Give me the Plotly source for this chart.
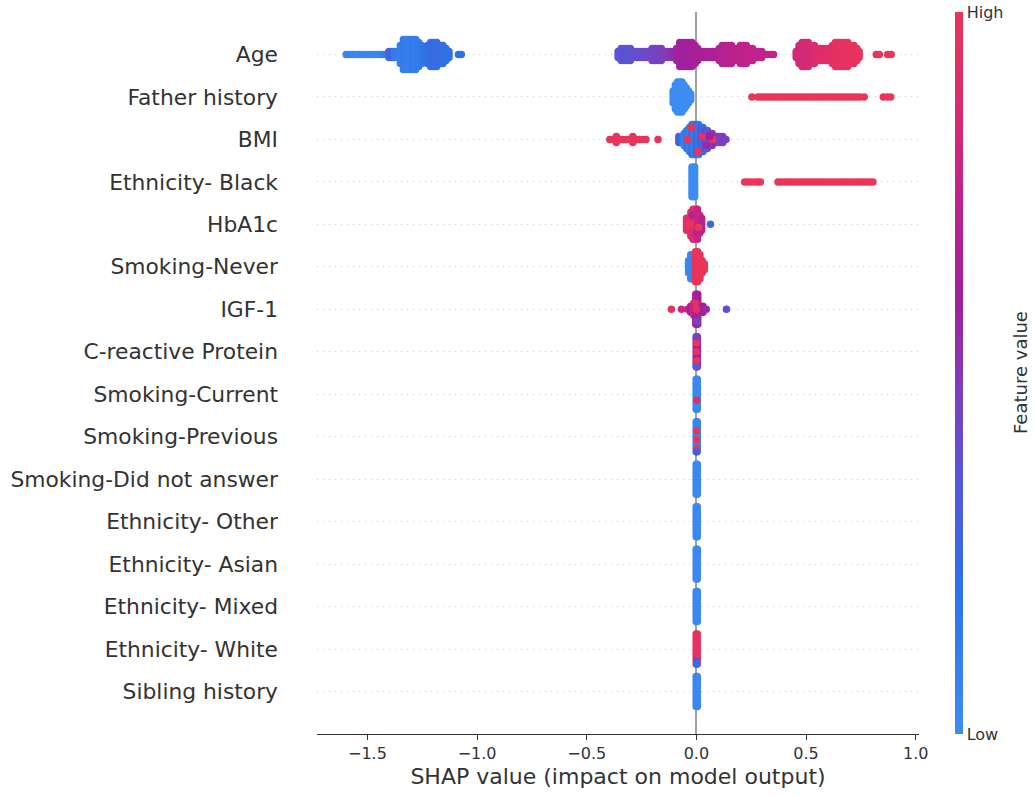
import plotly.graph_objects as go

# ---------------- data ----------------
FEATURES = ["Age", "Father history", "BMI", "Ethnicity- Black", "HbA1c",
            "Smoking-Never", "IGF-1", "C-reactive Protein", "Smoking-Current",
            "Smoking-Previous", "Smoking-Did not answer", "Ethnicity- Other",
            "Ethnicity- Asian", "Ethnicity- Mixed", "Ethnicity- White",
            "Sibling history"]

# For every feature: SHAP value of each bin (X), half-height of the dot stack
# in that bin (N) and the normalised feature value that colours it (V).
AGE_X = [-1.597, -1.582, -1.567, -1.552, -1.537, -1.522, -1.507, -1.492, -1.477, -1.462,
         -1.447, -1.432, -1.417, -1.402, -1.388, -1.376,
         -1.350, -1.336, -1.322, -1.308, -1.294, -1.280, -1.266, -1.252, -1.240,
         -1.226, -1.212, -1.198, -1.184, -1.170, -1.156, -1.142, -1.128,
         -1.085, -1.072,
         -0.357, -0.343, -0.329, -0.315, -0.301, -0.288,
         -0.272, -0.258, -0.244, -0.230,
         -0.216, -0.202, -0.188, -0.174, -0.160, -0.146,
         -0.132, -0.118, -0.104,
         -0.090, -0.076, -0.062, -0.048, -0.034, -0.020, -0.006, 0.006,
         0.020, 0.034, 0.048, 0.062, 0.076, 0.090,
         0.104, 0.118, 0.132, 0.146, 0.160, 0.174, 0.188, 0.200, 0.214, 0.228, 0.242, 0.256,
         0.270, 0.284, 0.298, 0.312, 0.326, 0.340, 0.352,
         0.455, 0.468, 0.482, 0.496, 0.510, 0.524, 0.538, 0.550,
         0.564, 0.578, 0.592,
         0.606, 0.620, 0.634, 0.648, 0.662, 0.676, 0.690, 0.704, 0.718, 0.732, 0.742,
         0.820, 0.834, 0.872, 0.888]
AGE_N = [0, 0, 0, 0, 0, 0, 0, 0, 0, 0, 0, 0, 0, 1, 1, 1,
         3, 5, 5, 5, 5, 5, 4, 3, 2,
         3, 4, 4, 4, 3, 3, 2, 1,
         0, 0,
         1, 2, 2, 2, 2, 1,
         1, 1, 1, 1,
         1, 2, 2, 2, 2, 1,
         1, 1, 1,
         2, 4, 4, 4, 4, 4, 3, 2,
         1, 1, 1, 1, 1, 1,
         2, 3, 3, 3, 3, 2, 2, 3, 3, 3, 2, 2,
         1, 1, 1, 0, 0, 0, 0,
         1, 3, 4, 4, 4, 3, 3, 2,
         2, 2, 2,
         2, 3, 4, 4, 4, 4, 4, 3, 3, 2, 1,
         0, 0, 0, 0]
AGE_V = [0.05, 0.05, 0.05, 0.05, 0.05, 0.05, 0.05, 0.05, 0.05, 0.05, 0.05, 0.08, 0.10, 0.25, 0.30, 0.12,
         0.10, 0.12, 0.10, 0.10, 0.12, 0.10, 0.12, 0.15, 0.18,
         0.20, 0.22, 0.24, 0.22, 0.25, 0.22, 0.20, 0.20,
         0.20, 0.22,
         0.36, 0.37, 0.38, 0.37, 0.38, 0.39,
         0.40, 0.40, 0.41, 0.42,
         0.43, 0.44, 0.45, 0.45, 0.46, 0.47,
         0.50, 0.52, 0.55,
         0.58, 0.60, 0.60, 0.61, 0.61, 0.62, 0.62, 0.63,
         0.64, 0.64, 0.65, 0.65, 0.66, 0.66,
         0.68, 0.69, 0.70, 0.70, 0.71, 0.72, 0.72, 0.73, 0.74, 0.74, 0.75, 0.75,
         0.74, 0.74, 0.75, 0.75, 0.76, 0.76, 0.76,
         0.82, 0.83, 0.84, 0.84, 0.85, 0.86, 0.87, 0.88,
         0.89, 0.90, 0.91,
         0.92, 0.93, 0.94, 0.95, 0.95, 0.96, 0.96, 0.97, 0.97, 0.98, 0.98,
         0.98, 0.99, 0.99, 1.00]

FATHER_X = [-0.106, -0.096, -0.086, -0.076, -0.066, -0.056, -0.046, -0.036, -0.026,
            0.253, 0.280, 0.295, 0.310, 0.325, 0.340, 0.355, 0.370, 0.385, 0.400, 0.415,
            0.430, 0.445, 0.460, 0.475, 0.490, 0.505, 0.520, 0.535, 0.550, 0.565,
            0.580, 0.595, 0.610, 0.625, 0.640, 0.655, 0.670, 0.685, 0.700, 0.715,
            0.730, 0.745, 0.765,
            0.852, 0.870, 0.886]
FATHER_N = [2, 4, 5, 5, 5, 4, 3, 2, 1,
            0, 0, 0, 0, 0, 0, 0, 0, 0, 0, 0,
            0, 0, 0, 0, 0, 0, 0, 0, 0, 0,
            0, 0, 0, 0, 0, 0, 0, 0, 0, 0,
            0, 0, 0,
            0, 0, 0]
FATHER_V = [0.0, 0.0, 0.0, 0.0, 0.0, 0.0, 0.0, 0.0, 0.0,
            1.0, 1.0, 1.0, 1.0, 1.0, 1.0, 1.0, 1.0, 1.0, 1.0, 1.0,
            1.0, 1.0, 1.0, 1.0, 1.0, 1.0, 1.0, 1.0, 1.0, 1.0,
            1.0, 1.0, 1.0, 1.0, 1.0, 1.0, 1.0, 1.0, 1.0, 1.0,
            1.0, 1.0, 1.0,
            1.0, 1.0, 1.0]

BMI_X = [-0.395, -0.380, -0.365, -0.350, -0.335, -0.320, -0.305, -0.290, -0.275, -0.260,
         -0.245, -0.230, -0.175,
         -0.080, -0.068, -0.056, -0.044, -0.032, -0.020, -0.010, 0.000, 0.010, 0.020,
         0.030, 0.040, 0.050, 0.060, 0.072, 0.084, 0.096, 0.108, 0.120, 0.135]
BMI_N = [0, 0, 1, 0, 0, 0, 0, 1, 0, 0, 0, 0, 0,
         1, 1, 2, 3, 4, 5, 5, 5, 5, 4, 4, 3, 3, 2, 2, 1, 1, 1, 1, 0]
BMI_V = [1.0, 1.0, 1.0, 1.0, 1.0, 1.0, 1.0, 1.0, 1.0, 1.0, 1.0, 1.0, 1.0,
         0.35, 0.20, 0.10, 0.15, 0.10, 0.20, 0.10, 0.25, 0.15, 0.35,
         0.20, 0.45, 0.30, 0.50, 0.50, 0.55, 0.50, 0.45, 0.50, 0.45]

BLACK_X = [-0.020, -0.008,
           0.220, 0.235, 0.250, 0.265, 0.280, 0.292,
           0.372, 0.387, 0.402, 0.417, 0.432, 0.447, 0.462, 0.477, 0.492, 0.507,
           0.522, 0.537, 0.552, 0.567, 0.582, 0.597, 0.612, 0.627, 0.642, 0.657,
           0.672, 0.687, 0.702, 0.717, 0.732, 0.747, 0.762, 0.777, 0.792, 0.805]
BLACK_N = [5, 5,
           0, 0, 0, 0, 0, 0,
           0, 0, 0, 0, 0, 0, 0, 0, 0, 0,
           0, 0, 0, 0, 0, 0, 0, 0, 0, 0,
           0, 0, 0, 0, 0, 0, 0, 0, 0, 0]
BLACK_V = [0.0, 0.0,
           1.0, 1.0, 1.0, 1.0, 1.0, 1.0,
           1.0, 1.0, 1.0, 1.0, 1.0, 1.0, 1.0, 1.0, 1.0, 1.0,
           1.0, 1.0, 1.0, 1.0, 1.0, 1.0, 1.0, 1.0, 1.0, 1.0,
           1.0, 1.0, 1.0, 1.0, 1.0, 1.0, 1.0, 1.0, 1.0, 1.0]

HBA1C_X = [-0.045, -0.035, -0.025, -0.015, -0.005, 0.005, 0.015, 0.024, 0.064]
HBA1C_N = [2, 2, 4, 5, 5, 5, 3, 2, 0]
HBA1C_V = [0.95, 0.90, 0.97, 0.85, 0.92, 0.78, 0.80, 0.70, 0.25]

NEVER_X = [-0.036, -0.026, -0.017, -0.004, 0.006, 0.016, 0.026, 0.036]
NEVER_N = [2, 4, 4, 5, 5, 4, 2, 1]
NEVER_V = [0.03, 0.03, 0.05, 1.0, 1.0, 0.98, 1.0, 1.0]

IGF1_X = [-0.114, -0.068, -0.040, -0.026, -0.012, -0.003, 0.006, 0.016, 0.030, 0.045, 0.137]
IGF1_N = [0, 0, 0, 1, 2, 5, 5, 1, 1, 0, 0]
IGF1_V = [0.97, 0.80, 0.75, 0.65, 0.80, 0.68, 0.60, 0.75, 0.60, 0.55, 0.40]

CRP_X = [-0.001, 0.004]
CRP_N = [5, 5]
CRP_V = [0.58, 0.62]

CURRENT_X = [-0.001, 0.004]
CURRENT_N = [5, 5]
CURRENT_V = [0.04, 0.04]

PREVIOUS_X = [-0.001, 0.004]
PREVIOUS_N = [5, 5]
PREVIOUS_V = [0.05, 0.05]

DIDNOT_X = [-0.001, 0.004]
DIDNOT_N = [5, 5]
DIDNOT_V = [0.03, 0.03]

OTHER_X = [-0.001, 0.004]
OTHER_N = [5, 5]
OTHER_V = [0.03, 0.03]

ASIAN_X = [-0.001, 0.004]
ASIAN_N = [5, 5]
ASIAN_V = [0.03, 0.03]

MIXED_X = [-0.001, 0.004]
MIXED_N = [5, 5]
MIXED_V = [0.03, 0.03]

WHITE_X = [-0.001, 0.004]
WHITE_N = [5, 5]
WHITE_V = [1.0, 0.97]

SIBLING_X = [-0.001, 0.004]
SIBLING_N = [5, 5]
SIBLING_V = [0.03, 0.03]

# individual dots drawn on top of the swarms (feature, SHAP value, stack slot, feature value)
ACC_FEATURE = ["BMI", "BMI", "BMI", "BMI", "BMI", "BMI", "BMI",
               "HbA1c", "HbA1c", "HbA1c", "HbA1c",
               "IGF-1", "IGF-1", "IGF-1",
               "C-reactive Protein", "C-reactive Protein", "C-reactive Protein",
               "C-reactive Protein", "C-reactive Protein",
               "Smoking-Current",
               "Smoking-Previous", "Smoking-Previous", "Smoking-Previous", "Smoking-Previous",
               "Ethnicity- White", "Ethnicity- White"]
ACC_X = [-0.023, 0.007, -0.040, 0.025, 0.075, 0.045, 0.060,
         -0.020, 0.000, -0.030, 0.010,
         0.000, -0.004, 0.003,
         0.001, 0.002, 0.000, 0.002, 0.000,
         0.002,
         0.001, 0.001, 0.001, 0.001,
         0.001, 0.001]
ACC_LEVEL = [4, -4, 0, 1, 0, -2, 1,
             3, -3, 0, -1,
             0, 2, -4,
             3, -3, 0, 5, -5,
             -2,
             2, -1, -4, -5,
             -4, -5]
ACC_V = [1.0, 1.0, 1.0, 0.95, 1.0, 0.55, 0.60,
         0.70, 0.72, 1.0, 1.0,
         0.95, 0.95, 0.45,
         1.0, 1.0, 0.95, 0.45, 0.30,
         0.90,
         1.0, 1.0, 1.0, 0.35,
         0.40, 0.20]

ROWS = [
    ("Age", AGE_X, AGE_N, AGE_V),
    ("Father history", FATHER_X, FATHER_N, FATHER_V),
    ("BMI", BMI_X, BMI_N, BMI_V),
    ("Ethnicity- Black", BLACK_X, BLACK_N, BLACK_V),
    ("HbA1c", HBA1C_X, HBA1C_N, HBA1C_V),
    ("Smoking-Never", NEVER_X, NEVER_N, NEVER_V),
    ("IGF-1", IGF1_X, IGF1_N, IGF1_V),
    ("C-reactive Protein", CRP_X, CRP_N, CRP_V),
    ("Smoking-Current", CURRENT_X, CURRENT_N, CURRENT_V),
    ("Smoking-Previous", PREVIOUS_X, PREVIOUS_N, PREVIOUS_V),
    ("Smoking-Did not answer", DIDNOT_X, DIDNOT_N, DIDNOT_V),
    ("Ethnicity- Other", OTHER_X, OTHER_N, OTHER_V),
    ("Ethnicity- Asian", ASIAN_X, ASIAN_N, ASIAN_V),
    ("Ethnicity- Mixed", MIXED_X, MIXED_N, MIXED_V),
    ("Ethnicity- White", WHITE_X, WHITE_N, WHITE_V),
    ("Sibling history", SIBLING_X, SIBLING_N, SIBLING_V),
]

X_TICKS = [-1.5, -1.0, -0.5, 0.0, 0.5, 1.0]
X_TICKTEXT = ["\u22121.5", "\u22121.0", "\u22120.5", "0.0", "0.5", "1.0"]

# ---------------- layout of the swarm ----------------
DY = 0.0706          # vertical distance between stacked dots (row units)
n_feat = len(FEATURES)
row_of = {f: n_feat - 1 - i for i, f in enumerate(FEATURES)}

px_, py_, pc_ = [], [], []
for feat, xs, ns, vs in ROWS:
    base = row_of[feat]
    for x, n, v in zip(xs, ns, vs):
        slots = [0]
        for k in range(1, n + 1):
            slots += [k, -k]
        for s in slots:
            px_.append(x)
            py_.append(base + s * DY)
            pc_.append(v)
for feat, x, lev, v in zip(ACC_FEATURE, ACC_X, ACC_LEVEL, ACC_V):
    px_.append(x)
    py_.append(row_of[feat] + lev * DY)
    pc_.append(v)

COLORSCALE = [[0.0, "#3d8cf3"], [0.2, "#2e72e6"], [0.35, "#5458d8"],
              [0.5, "#8639b8"], [0.6, "#a1209c"], [0.75, "#c2228a"],
              [0.88, "#db2c6e"], [1.0, "#ea3559"]]

fig = go.Figure()
fig.add_trace(go.Scatter(
    x=px_, y=py_, mode="markers", hoverinfo="skip",
    marker=dict(size=7.5, color=pc_, colorscale=COLORSCALE, cmin=0, cmax=1,
                line=dict(width=0), opacity=1,
                showscale=True,
                colorbar=dict(
                    x=1.06, xanchor="left", xpad=0, y=0.5, yanchor="middle",
                    len=1.0, lenmode="fraction", ypad=0, thickness=8,
                    outlinewidth=0, ticks="", tickvals=[0, 1],
                    ticktext=["Low", "High"],
                    tickfont=dict(size=16, color="#333333", family="DejaVu Sans"),
                )),
    showlegend=False,
))

fig.add_annotation(text="Feature value", xref="paper", yref="paper",
                   x=1.1678, y=0.5, xanchor="center", yanchor="middle",
                   textangle=-90, showarrow=False,
                   font=dict(size=18, color="#333333", family="DejaVu Sans"))

fig.update_layout(
    width=1034, height=796,
    margin=dict(l=317, r=115, t=12, b=62, autoexpand=False),
    paper_bgcolor="white", plot_bgcolor="white",
    font=dict(family="DejaVu Sans", color="#333333"),
    xaxis=dict(range=[-1.73, 1.015], tickvals=X_TICKS, ticktext=X_TICKTEXT,
               showgrid=False, zeroline=True, zerolinecolor="#a0a0a0", zerolinewidth=2,
               showline=True, linecolor="#333333", linewidth=1,
               ticks="outside", ticklen=5, tickcolor="#333333", tickwidth=1,
               tickfont=dict(size=16, color="#333333"),
               title=dict(text="SHAP value (impact on model output)",
                          font=dict(size=22, color="#333333"), standoff=6),
               automargin=False),
    yaxis=dict(range=[-1, n_feat], tickvals=list(range(n_feat)),
               ticktext=[FEATURES[n_feat - 1 - i] for i in range(n_feat)],
               showgrid=True, gridcolor="#cccccc", gridwidth=1, griddash="1px,5px",
               zeroline=False, showline=False, ticks="",
               tickfont=dict(size=21.8, color="#333333"),
               ticklabelstandoff=38, automargin=False),
)

fig.write_html("out.html",
               config={"displayModeBar": False},
               post_script="document.body.style.margin='0px';"
                           "document.body.style.overflow='hidden';")
